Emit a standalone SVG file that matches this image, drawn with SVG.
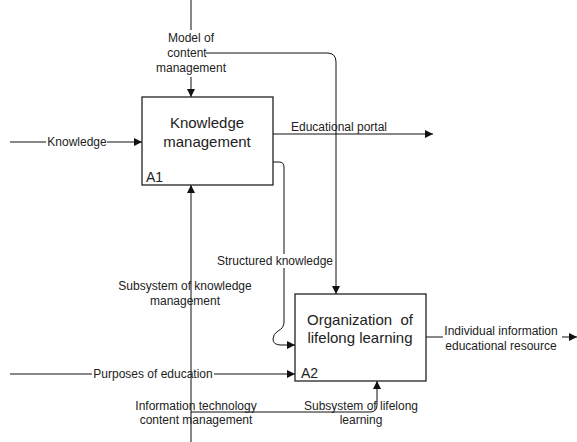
<svg xmlns="http://www.w3.org/2000/svg" width="577" height="442" viewBox="0 0 577 442">
<style>
.box{fill:#fff;stroke:#222;stroke-width:1.3}
.ln{fill:none;stroke:#111;stroke-width:1}
.t{font-family:"Liberation Sans",Arial,sans-serif;font-size:12px;fill:#222;text-anchor:middle}
.bt{font-family:"Liberation Sans",Arial,sans-serif;font-size:15px;fill:#222;text-anchor:middle}
.id{font-family:"Liberation Sans",Arial,sans-serif;font-size:14px;fill:#222}
</style>
<defs>
<marker id="ah" viewBox="0 0 10 10" refX="10" refY="5" markerWidth="9" markerHeight="8" markerUnits="userSpaceOnUse" orient="auto">
<path d="M0,0 L10,5 L0,10 Z" fill="#111"/>
</marker>
</defs>
<rect width="577" height="442" fill="#fff"/>
<g id="connectors">
<path class="ln" d="M191,0 V30"/>
<path class="ln" d="M191,77 V97" marker-end="url(#ah)"/>
<path class="ln" d="M206,53 H327 Q336,53 336,62 V294" marker-end="url(#ah)"/>
<path class="ln" d="M10,142 H46"/>
<path class="ln" d="M107,142 H142" marker-end="url(#ah)"/>
<path class="ln" d="M273,134 H433" marker-end="url(#ah)"/>
<path class="ln" d="M273,162 H279 Q284,162 284,167 V254"/>
<path class="ln" d="M284,268 V322 Q284,328 278,331 Q273,334 273,339 Q273,345 281,345 H295" marker-end="url(#ah)"/>
<path class="ln" d="M191,442 V185" marker-end="url(#ah)"/>
<path class="ln" d="M10,374 H92"/>
<path class="ln" d="M214,374 H295" marker-end="url(#ah)"/>
<path class="ln" d="M191,412 H370 Q377,412 377,405 V381" marker-end="url(#ah)"/>
<path class="ln" d="M426,337 H443"/>
<path class="ln" d="M562,337 H577" marker-end="url(#ah)"/>
</g>
<g id="A1">
<rect class="box" x="142" y="97" width="131" height="88"/>
<text class="bt" x="207" y="128">Knowledge</text>
<text class="bt" x="207" y="147">management</text>
<text class="id" x="146" y="182">A1</text>
</g>
<g id="A2">
<rect class="box" x="295" y="294" width="131" height="87"/>
<text class="bt" x="360" y="325" xml:space="preserve">Organization  of</text>
<text class="bt" x="360" y="343">lifelong learning</text>
<text class="id" x="301" y="378">A2</text>
</g>
<g id="labels">
<text class="t" x="191" y="42">Model of</text>
<text class="t" x="187" y="57">content</text>
<text class="t" x="191" y="72">management</text>
<text class="t" x="77" y="146">Knowledge</text>
<text class="t" x="339" y="131">Educational portal</text>
<text class="t" x="275" y="265">Structured knowledge</text>
<text class="t" x="185" y="290">Subsystem of knowledge</text>
<text class="t" x="185" y="305">management</text>
<text class="t" x="153" y="378">Purposes of education</text>
<text class="t" x="196" y="410">Information technology</text>
<text class="t" x="196" y="424">content management</text>
<text class="t" x="361" y="410">Subsystem of lifelong</text>
<text class="t" x="361" y="424">learning</text>
<text class="t" x="501" y="335">Individual information</text>
<text class="t" x="501" y="350">educational resource</text>
</g>
</svg>
